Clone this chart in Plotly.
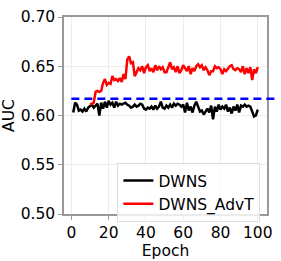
import plotly.graph_objects as go

epochs_dwns = list(range(1, 101))
auc_dwns = [0.603, 0.613, 0.611, 0.605, 0.606, 0.604, 0.607, 0.604, 0.608, 0.610,
            0.611, 0.608, 0.610, 0.612, 0.600, 0.613, 0.607, 0.614, 0.608, 0.615,
            0.611, 0.613, 0.608, 0.614, 0.610, 0.612, 0.611, 0.612, 0.613, 0.611,
            0.610, 0.608, 0.609, 0.611, 0.609, 0.610, 0.612, 0.611, 0.607, 0.606,
            0.608, 0.607, 0.609, 0.606, 0.610, 0.607, 0.609, 0.614, 0.608, 0.607,
            0.610, 0.608, 0.611, 0.608, 0.612, 0.610, 0.612, 0.611, 0.609, 0.611,
            0.603, 0.613, 0.605, 0.609, 0.603, 0.610, 0.614, 0.609, 0.604, 0.605,
            0.601, 0.604, 0.607, 0.603, 0.610, 0.596, 0.609, 0.604, 0.611, 0.606,
            0.609, 0.607, 0.611, 0.604, 0.608, 0.602, 0.609, 0.605, 0.611, 0.603,
            0.610, 0.609, 0.611, 0.609, 0.610, 0.609, 0.603, 0.599, 0.600, 0.606]

epochs_advt = list(range(10, 101))
auc_advt = [0.611, 0.612, 0.613, 0.624, 0.625, 0.624, 0.625, 0.633, 0.637, 0.631,
            0.633, 0.632, 0.640, 0.636, 0.637, 0.635, 0.638, 0.634, 0.642, 0.637,
            0.657, 0.660, 0.653, 0.654, 0.640, 0.644, 0.648, 0.646, 0.650, 0.643,
            0.649, 0.651, 0.645, 0.648, 0.644, 0.651, 0.646, 0.650, 0.647, 0.649,
            0.644, 0.644, 0.650, 0.654, 0.647, 0.649, 0.644, 0.650, 0.643, 0.646,
            0.651, 0.648, 0.645, 0.650, 0.642, 0.648, 0.645, 0.650, 0.652, 0.649,
            0.651, 0.646, 0.649, 0.646, 0.641, 0.645, 0.645, 0.650, 0.648, 0.649,
            0.647, 0.642, 0.647, 0.645, 0.648, 0.650, 0.651, 0.647, 0.646, 0.648,
            0.647, 0.644, 0.650, 0.642, 0.648, 0.643, 0.649, 0.636, 0.647, 0.643,
            0.649]

baseline = 0.617
x_ticks = [0, 20, 40, 60, 80, 100]
y_ticks = [0.50, 0.55, 0.60, 0.65, 0.70]
y_tick_text = ["0.50", "0.55", "0.60", "0.65", "0.70"]

x_range = [-3.95, 104.95]
font = "DejaVu Sans"
fs = 15.5

fig = go.Figure()
fig.add_trace(go.Scatter(x=epochs_dwns, y=auc_dwns, mode="lines", name="DWNS",
                         line=dict(color="black", width=2.5)))
fig.add_trace(go.Scatter(x=epochs_advt, y=auc_advt, mode="lines", name="DWNS_AdvT",
                         line=dict(color="red", width=2.5)))

span = x_range[1] - x_range[0]
fig.add_shape(type="line", xref="paper", yref="y",
              x0=(0 - x_range[0]) / span, x1=1.05, y0=baseline, y1=baseline,
              line=dict(color="blue", width=2.5, dash="8px,5px"))

axis_common = dict(showline=True, linecolor="#999", linewidth=1.5, mirror=True,
                   showgrid=True, gridcolor="#ececec", gridwidth=1,
                   ticks="outside", ticklen=4, tickcolor="#999", tickwidth=1,
                   tickfont=dict(family=font, size=fs, color="black"),
                   zeroline=False)

fig.update_layout(
    width=281, height=261,
    margin=dict(l=56, r=8, t=8, b=37),
    paper_bgcolor="white", plot_bgcolor="white",
    font=dict(family=font, size=fs, color="black"),
    xaxis=dict(range=x_range, tickvals=x_ticks,
               title=dict(text="Epoch", font=dict(family=font, size=fs), standoff=0),
               **axis_common),
    yaxis=dict(range=[0.5, 0.7], tickvals=y_ticks, ticktext=y_tick_text,
               title=dict(text="AUC", font=dict(family=font, size=fs), standoff=2),
               **axis_common),
    legend=dict(x=0.263, y=0.259, xanchor="left", yanchor="top",
                bgcolor="rgba(255,255,255,0.8)", bordercolor="#ddd", borderwidth=1,
                font=dict(family=font, size=fs, color="black"),
                itemwidth=30, tracegroupgap=0),
    showlegend=True,
)

fig.write_html("out.html", config={"displayModeBar": False},
               post_script="document.body.style.margin='0';")
